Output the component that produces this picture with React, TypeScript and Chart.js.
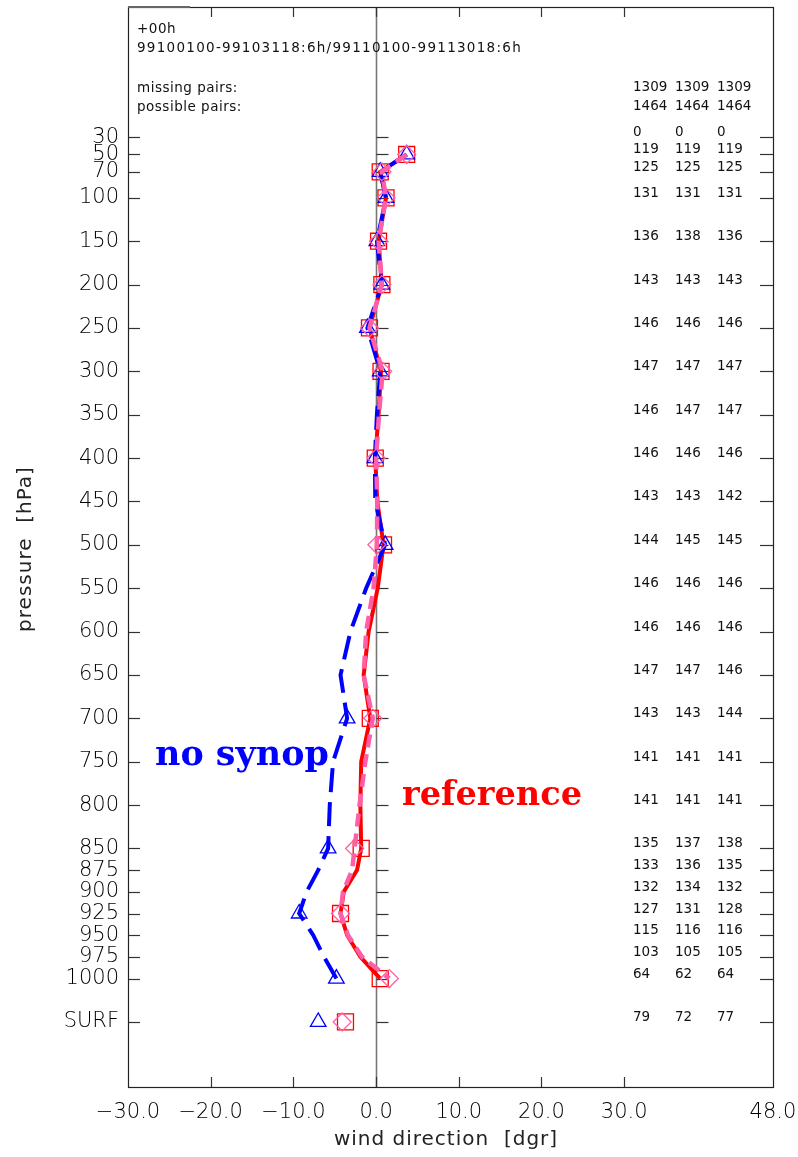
import React, { useEffect, useRef } from "react";
import { Chart, registerables } from "chart.js";

Chart.register(...registerables);

// ---- data ----
const levels = [50, 70, 100, 150, 200, 250, 300, 350, 400, 450, 500, 550, 600, 650, 700, 750, 800, 850, 875, 900, 925, 950, 975, 1000];
const markerLevels = [50, 70, 100, 150, 200, 250, 300, 400, 500, 700, 850, 925, 1000];
const surfLevel = 1050;

const referenceValues = [3.7, 0.5, 1.2, 0.3, 0.7, -0.8, 0.6, 0.3, -0.1, 0.15, 0.9, 0.2, -0.9, -1.5, -0.7, -1.8, -1.9, -1.8, -2.3, -3.9, -4.3, -3.5, -1.9, 0.5];
const experimentValues = [3.7, 0.7, 1.2, 0.3, 0.7, -0.8, 0.8, 0.35, 0.0, 0.15, 0.1, -0.3, -1.2, -1.5, -0.4, -1.3, -2.0, -2.6, -2.9, -4.0, -4.3, -3.4, -1.7, 1.6];
const noSynopValues = [3.7, 0.5, 1.2, 0.1, 0.7, -1.05, 0.5, 0.1, -0.15, -0.1, 1.1, -1.2, -3.1, -4.3, -3.5, -5.2, -5.6, -5.8, -7.0, -8.4, -9.3, -7.6, -6.3, -4.8];

const referenceSurf = -3.7;
const experimentSurf = -4.1;
const noSynopSurf = -7.0;

const yTickValues = [30, 50, 70, 100, 150, 200, 250, 300, 350, 400, 450, 500, 550, 600, 650, 700, 750, 800, 850, 875, 900, 925, 950, 975, 1000, 1050];
const yTickLabels = ["30", "50", "70", "100", "150", "200", "250", "300", "350", "400", "450", "500", "550", "600", "650", "700", "750", "800", "850", "875", "900", "925", "950", "975", "1000", "SURF"];
const xTickValues = [-30, -20, -10, 0, 10, 20, 30, 48];

const countsColumn1 = [0, 119, 125, 131, 136, 143, 146, 147, 146, 146, 143, 144, 146, 146, 147, 143, 141, 141, 135, 133, 132, 127, 115, 103, 64, 79];
const countsColumn2 = [0, 119, 125, 131, 138, 143, 146, 147, 147, 146, 143, 145, 146, 146, 147, 143, 141, 141, 137, 136, 134, 131, 116, 105, 62, 72];
const countsColumn3 = [0, 119, 125, 131, 136, 143, 146, 147, 147, 146, 142, 145, 146, 146, 146, 144, 141, 141, 138, 135, 132, 128, 116, 105, 64, 77];
const missingPairs = [1309, 1309, 1309];
const possiblePairs = [1464, 1464, 1464];

const headerLines = ["+00h", "99100100-99103118:6h/99110100-99113018:6h"];
const xTitle = "wind direction  [dgr]";
const yTitle = "pressure  [hPa]";

const RED = "#ff0000";
const PINK = "#ff5fa8";
const BLUE = "#0000ff";

// target plot-area box (layout)
const AREA = { left: 128, top: 7, right: 773, bottom: 1087 };

function toPoints(vals: number[]) {
  return levels.map((p, i) => ({ x: vals[i], y: p }));
}
function radii(r: number) {
  return levels.map((p) => (markerLevels.includes(p) ? r : 0));
}

const decorPlugin = {
  id: "decor",
  beforeDatasetsDraw(chart: any) {
    const { ctx, chartArea, scales } = chart;
    const { left, right, top, bottom } = chartArea;
    const xs = scales.x;
    const ys = scales.y;
    const snap = (v: number) => Math.round(v) + 0.5;
    const line = (x1: number, y1: number, x2: number, y2: number) => {
      ctx.beginPath();
      ctx.moveTo(x1, y1);
      ctx.lineTo(x2, y2);
      ctx.stroke();
    };
    ctx.save();
    const x0 = snap(xs.getPixelForValue(0));
    ctx.strokeStyle = "#777";
    ctx.lineWidth = 1.6;
    line(x0, top, x0, bottom);

    ctx.strokeStyle = "#333";
    ctx.lineWidth = 1.2;
    yTickValues.forEach((v) => {
      const py = snap(ys.getPixelForValue(v));
      line(left, py, left + 12, py);
      line(x0, py, x0 + 12, py);
      line(right - 13, py, right, py);
    });
    xTickValues.forEach((v, i) => {
      if (i === 0 || i === xTickValues.length - 1) return;
      const px = snap(xs.getPixelForValue(v));
      line(px, top, px, top + 10);
      line(px, bottom, px, bottom - 10);
    });
    ctx.strokeStyle = "#222";
    ctx.lineWidth = 1.2;
    ctx.strokeRect(snap(left), snap(top), Math.round(right - left), Math.round(bottom - top));
    ctx.restore();
  },
  afterDraw(chart: any) {
    const { ctx, chartArea, scales } = chart;
    const { left, top, bottom } = chartArea;
    const ys = scales.y;
    ctx.save();
    ctx.fillStyle = "#111";
    ctx.textBaseline = "middle";
    ctx.textAlign = "left";

    // header
    ctx.font = '13.5px "DejaVu Sans"';
    (ctx as any).letterSpacing = "0.5px";
    ctx.fillText(headerLines[0], 137, 29);
    {
      (ctx as any).letterSpacing = "0px";
      const w = ctx.measureText(headerLines[1]).width;
      const n = headerLines[1].length;
      (ctx as any).letterSpacing = ((385 - w) / n).toFixed(2) + "px";
      ctx.fillText(headerLines[1], 137, 48.5);
    }
    (ctx as any).letterSpacing = "0.5px";
    ctx.fillText("missing pairs:", 137, 88);
    ctx.fillText("possible pairs:", 137, 107);

    (ctx as any).letterSpacing = "0px";
    const cols = [633, 675, 717];
    missingPairs.forEach((v, i) => ctx.fillText(String(v), cols[i], 87));
    possiblePairs.forEach((v, i) => ctx.fillText(String(v), cols[i], 106));

    yTickValues.forEach((lev, i) => {
      const py = ys.getPixelForValue(lev) - 4.5;
      ctx.fillText(String(countsColumn1[i]), cols[0], py);
      ctx.fillText(String(countsColumn2[i]), cols[1], py);
      ctx.fillText(String(countsColumn3[i]), cols[2], py);
    });

    // axis titles
    ctx.font = '20px "DejaVu Sans"';
    ctx.fillStyle = "#222";
    (ctx as any).letterSpacing = "1px";
    ctx.textAlign = "center";
    ctx.fillText(xTitle, 446, 1140);
    ctx.save();
    ctx.translate(26, (top + bottom) / 2 + 2);
    ctx.rotate(-Math.PI / 2);
    ctx.fillText(yTitle, 0, 0);
    ctx.restore();

    // labels
    (ctx as any).letterSpacing = "0px";
    ctx.textAlign = "left";
    ctx.textBaseline = "alphabetic";
    const fit = (text: string, target: number) => {
      ctx.font = 'bold 100px "DejaVu Serif"';
      const w = ctx.measureText(text).width;
      const size = (100 * target) / w;
      ctx.font = `bold ${size.toFixed(2)}px "DejaVu Serif"`;
    };
    fit("no synop", 174);
    ctx.fillStyle = BLUE;
    ctx.fillText("no synop", 155, 765);
    fit("reference", 180);
    ctx.fillStyle = RED;
    ctx.fillText("reference", 402, 805);

    // small dark piece on top border
    ctx.strokeStyle = "#666";
    ctx.lineWidth = 2;
    ctx.beginPath();
    ctx.moveTo(left, top);
    ctx.lineTo(left + 62, top);
    ctx.stroke();
    ctx.restore();
  },
};

export default function App() {
  const ref = useRef<HTMLCanvasElement | null>(null);

  useEffect(() => {
    if (!ref.current) return;
    const fmt = (v: number) => v.toFixed(1).replace("-", "\u2212");
    const pointCommon = {
      pointBackgroundColor: "rgba(0,0,0,0)",
      pointBorderWidth: 1.3,
    };
    const chart = new Chart(ref.current, {
      type: "scatter",
      data: {
        datasets: [
          {
            label: "reference",
            data: toPoints(referenceValues),
            showLine: true,
            borderColor: RED,
            borderWidth: 4,
            tension: 0,
            pointStyle: "rect",
            pointRadius: radii(11.3),
            pointBorderColor: RED,
            ...pointCommon,
            order: 3,
          },
          {
            label: "no synop",
            data: toPoints(noSynopValues),
            showLine: true,
            borderColor: BLUE,
            borderWidth: 4,
            borderDash: [24, 10],
            tension: 0,
            pointStyle: "triangle",
            pointRadius: radii(9),
            pointBorderColor: BLUE,
            ...pointCommon,
            order: 2,
          },
          {
            label: "experiment",
            data: toPoints(experimentValues),
            showLine: true,
            borderColor: PINK,
            borderWidth: 4.5,
            borderDash: [13, 7],
            tension: 0,
            pointStyle: "rectRot",
            pointRadius: radii(9),
            pointBorderColor: PINK,
            ...pointCommon,
            order: 1,
          },
          {
            label: "reference surf",
            data: [{ x: referenceSurf, y: surfLevel }],
            showLine: false,
            pointStyle: "rect",
            pointRadius: 11.3,
            pointBorderColor: RED,
            ...pointCommon,
            order: 3,
          },
          {
            label: "no synop surf",
            data: [{ x: noSynopSurf, y: surfLevel }],
            showLine: false,
            pointStyle: "triangle",
            pointRadius: 9,
            pointBorderColor: BLUE,
            ...pointCommon,
            order: 2,
          },
          {
            label: "experiment surf",
            data: [{ x: experimentSurf, y: surfLevel }],
            showLine: false,
            pointStyle: "rectRot",
            pointRadius: 9,
            pointBorderColor: PINK,
            ...pointCommon,
            order: 1,
          },
        ],
      },
      options: {
        animation: false,
        responsive: false,
        maintainAspectRatio: false,
        events: [],
        layout: { autoPadding: false, padding: { top: 7, right: 25, left: 0, bottom: 0 } },
        plugins: { legend: { display: false }, tooltip: { enabled: false } },
        scales: {
          x: {
            type: "linear",
            min: -30,
            max: 48,
            grid: { display: false, drawTicks: false },
            border: { display: false },
            afterBuildTicks: (s: any) => {
              s.ticks = xTickValues.map((v) => ({ value: v }));
            },
            afterFit: (s: any) => {
              s.height = 70;
              s.paddingLeft = 0;
              s.paddingRight = 0;
            },
            ticks: {
              autoSkip: false,
              maxRotation: 0,
              padding: 13,
              color: "#000",
              font: { family: "DejaVu Sans", size: 21, weight: 200 },
              callback: (v: any) => fmt(Number(v)),
            },
          },
          y: {
            type: "linear",
            reverse: true,
            min: -120,
            max: 1125,
            grid: { display: false, drawTicks: false },
            border: { display: false },
            afterBuildTicks: (s: any) => {
              s.ticks = yTickValues.map((v) => ({ value: v }));
            },
            afterFit: (s: any) => {
              s.width = 128;
              s.paddingTop = 0;
              s.paddingBottom = 0;
            },
            ticks: {
              autoSkip: false,
              padding: 9,
              color: "#000",
              font: { family: "DejaVu Sans", size: 21, weight: 200 },
              callback: (v: any) => {
                const i = yTickValues.indexOf(Number(v));
                return i >= 0 ? yTickLabels[i] : "";
              },
            },
          },
        },
      },
      plugins: [decorPlugin],
    } as any);

    // nudge layout padding so the plot area lands on the target box
    const ca = chart.chartArea;
    const pad: any = (chart.options as any).layout.padding;
    const dTop = ca.top - AREA.top;
    const dRight = ca.right - AREA.right;
    const dBottom = ca.bottom - AREA.bottom;
    const dLeft = ca.left - AREA.left;
    if (Math.abs(dTop) > 0.3 || Math.abs(dRight) > 0.3 || Math.abs(dBottom) > 0.3 || Math.abs(dLeft) > 0.3) {
      (chart.options as any).layout.padding = {
        top: Math.max(0, pad.top - dTop),
        right: Math.max(0, pad.right + dRight),
        bottom: Math.max(0, pad.bottom + dBottom),
        left: Math.max(0, pad.left - dLeft),
      };
      chart.update();
    }
    return () => chart.destroy();
  }, []);

  return (
    <div style={{ position: "absolute", left: 0, top: 0, width: 798, height: 1157, background: "#fff" }}>
      <canvas ref={ref} width={798} height={1157} style={{ width: 798, height: 1157, display: "block" }} />
    </div>
  );
}
